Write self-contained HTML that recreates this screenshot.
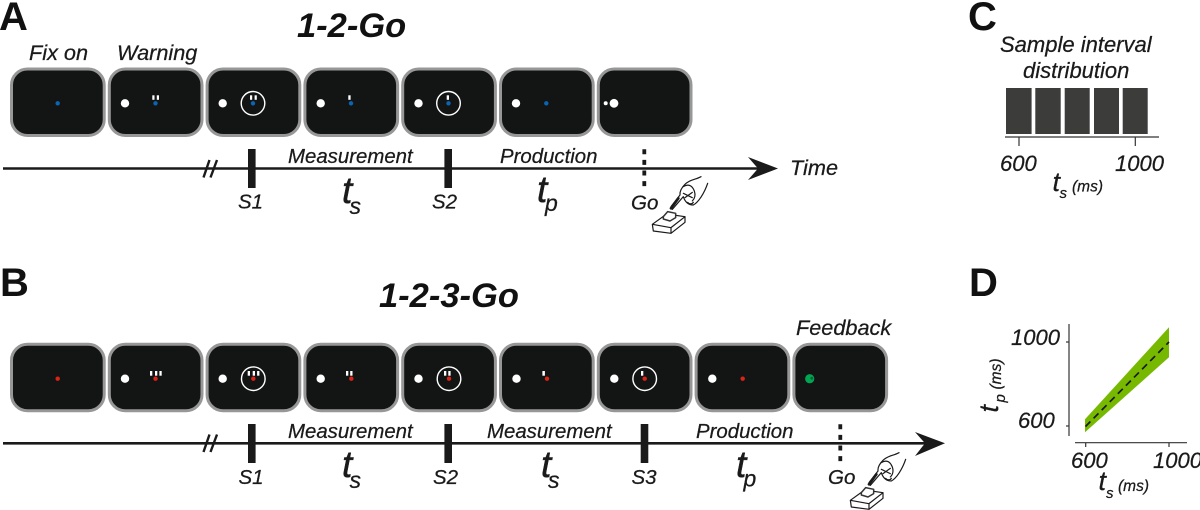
<!DOCTYPE html>
<html><head><meta charset="utf-8"><style>
html,body{margin:0;padding:0;background:#fff;width:1200px;height:510px;overflow:hidden}
svg{display:block}
text{font-family:"Liberation Sans",Arial,sans-serif;font-style:italic;fill:#1a1a1a;stroke:#1a1a1a;stroke-width:.25}
.l{font-size:40px;font-weight:bold;font-style:normal;fill:#111;stroke:none}
.h{font-size:34.5px;font-weight:bold;fill:#111;stroke:none}
.a{font-size:21.7px}.m{font-size:20.4px}.b{font-size:20.5px}
.t{font-size:37px;stroke-width:.5}.s{font-size:23px}.n{font-size:22px}.u{font-size:15.5px}
.p{fill:#131514;stroke:#979797;stroke-width:3}
.w{fill:#fff}.c{fill:none;stroke:#fff;stroke-width:1.4}
.e{fill:#0a66b5}.r{fill:#dc2318}
.z{fill:none;stroke:#1a1a1a;stroke-width:3.6;stroke-linejoin:round;stroke-linecap:round}
</style></head><body>
<svg width="1200" height="510" viewBox="0 0 1200 510" xmlns="http://www.w3.org/2000/svg">
<defs>
<g id="hand" transform="translate(635,145) scale(.3333)">
<path class="z" d="M52 238L95 207L150 215V232L108 265L55 258ZM52 238L108 248L150 215M108 248V265"/>
<path d="M85 215L98 200L122 205V218L105 228L85 222Z" fill="#fff" stroke="#333" stroke-width="4.5" stroke-linejoin="round"/>
<path class="z" d="M198 95C180 105 165 103 150 118C138 130 134 140 135 150L108 185L112 193L145 155C150 170 160 180 175 180C190 172 208 145 218 115"/>
<path class="z" d="M145 125C160 115 172 122 178 138C182 150 180 160 172 168M145 145L172 158M150 158L172 142M158 172C163 178 172 178 175 172"/>
<path d="M108 190L130 160" stroke="#1a1a1a" stroke-width="8" stroke-linecap="round" fill="none"/>
</g>
</defs>

<!-- Panel letters -->
<text class="l" x="-1" y="30">A</text>
<text class="l" x="0" y="296">B</text>
<text class="l" x="968" y="30">C</text>
<text class="l" x="969" y="296">D</text>

<text class="h" x="297" y="37">1-2-Go</text>
<text class="h" x="379" y="307">1-2-3-Go</text>
<text class="a" x="29" y="60">Fix on</text>
<text class="a" x="117" y="60">Warning</text>
<text class="a" x="796" y="335">Feedback</text>

<!-- Row A panels -->
<rect class="p" x="11.5" y="69" width="92.7" height="66.5" rx="16"/>
<rect class="p" x="109.3" y="69" width="92.7" height="66.5" rx="16"/>
<rect class="p" x="207.1" y="69" width="92.7" height="66.5" rx="16"/>
<rect class="p" x="304.9" y="69" width="92.7" height="66.5" rx="16"/>
<rect class="p" x="402.7" y="69" width="92.7" height="66.5" rx="16"/>
<rect class="p" x="500.5" y="69" width="92.7" height="66.5" rx="16"/>
<rect class="p" x="598.3" y="69" width="92.7" height="66.5" rx="16"/>
<circle class="e" cx="57.7" cy="103.3" r="2.2"/>
<circle class="w" cx="125" cy="103.3" r="4.2"/><circle class="e" cx="155.5" cy="103.3" r="2.2"/>
<rect class="w" x="152.3" y="95.3" width="2.2" height="4.5"/><rect class="w" x="156.8" y="95.3" width="2.2" height="4.5"/>
<circle class="w" cx="222.7" cy="103.3" r="4.2"/><circle class="c" cx="253" cy="103.3" r="11.8"/><circle class="e" cx="253" cy="103.3" r="2.2"/>
<rect class="w" x="250" y="95.3" width="2.2" height="4.5"/><rect class="w" x="254.6" y="95.3" width="2.2" height="4.5"/>
<circle class="w" cx="320.7" cy="103.3" r="4.2"/><circle class="e" cx="351" cy="103.3" r="2.2"/>
<rect class="w" x="348.3" y="95.3" width="2.3" height="4.5"/>
<circle class="w" cx="418.5" cy="103.3" r="4.2"/><circle class="c" cx="448.5" cy="103.3" r="11.8"/><circle class="e" cx="448.5" cy="103.3" r="2.2"/>
<rect class="w" x="446.7" y="95.3" width="2.3" height="4.5"/>
<circle class="w" cx="516" cy="103.3" r="4.2"/><circle class="e" cx="546.3" cy="103.3" r="2.2"/>
<circle class="w" cx="605.7" cy="103.3" r="2"/><circle class="w" cx="614" cy="103.3" r="4.4"/>

<!-- Timeline A -->
<line x1="3" y1="168.5" x2="760" y2="168.5" stroke="#1a1a1a" stroke-width="2.6"/>
<polygon points="748,157 778,168.5 748,180 758,168.5" fill="#1a1a1a"/>
<line x1="203.5" y1="177.5" x2="209.5" y2="160" stroke="#1a1a1a" stroke-width="2.4"/>
<line x1="210.5" y1="177.5" x2="217" y2="160" stroke="#1a1a1a" stroke-width="2.4"/>
<rect x="248" y="149" width="7.6" height="39" fill="#1a1a1a"/>
<rect x="444.4" y="149" width="7.6" height="39" fill="#1a1a1a"/>
<line x1="644.3" y1="149.3" x2="644.3" y2="188" stroke="#1a1a1a" stroke-width="3.8" stroke-dasharray="5 5.6"/>
<text class="b" x="238" y="208.5">S1</text>
<text class="b" x="432" y="208.5">S2</text>
<text class="m" x="288" y="163">Measurement</text>
<text class="m" x="500" y="163">Production</text>
<text class="t" x="342" y="203">t</text><text class="s" x="349.5" y="214">s</text>
<text class="t" x="537" y="202">t</text><text class="s" x="545" y="211">p</text>
<text class="b" x="631" y="209.5">Go</text>
<text class="a" x="790" y="175">Time</text>
<use href="#hand"/>

<!-- Row B panels -->
<rect class="p" x="11.5" y="344.2" width="92.7" height="66.6" rx="16"/>
<rect class="p" x="109.3" y="344.2" width="92.7" height="66.6" rx="16"/>
<rect class="p" x="207.1" y="344.2" width="92.7" height="66.6" rx="16"/>
<rect class="p" x="304.9" y="344.2" width="92.7" height="66.6" rx="16"/>
<rect class="p" x="402.7" y="344.2" width="92.7" height="66.6" rx="16"/>
<rect class="p" x="500.5" y="344.2" width="92.7" height="66.6" rx="16"/>
<rect class="p" x="598.3" y="344.2" width="92.7" height="66.6" rx="16"/>
<rect class="p" x="696.1" y="344.2" width="92.7" height="66.6" rx="16"/>
<rect class="p" x="793.9" y="344.2" width="92.7" height="66.6" rx="16"/>
<circle class="r" cx="57.7" cy="378.7" r="2.2"/>
<circle class="w" cx="125" cy="378.7" r="4.2"/><circle class="r" cx="155.5" cy="378.7" r="2.2"/>
<rect class="w" x="150" y="371" width="2.3" height="4.7"/><rect class="w" x="155" y="371" width="2.3" height="4.7"/><rect class="w" x="159.4" y="371" width="2.3" height="4.7"/>
<circle class="w" cx="222.7" cy="378.7" r="4.2"/><circle class="c" cx="253.3" cy="378.7" r="11.8"/><circle class="r" cx="253.3" cy="378.7" r="2.2"/>
<rect class="w" x="247.7" y="371" width="2.3" height="4.7"/><rect class="w" x="252.7" y="371" width="2.3" height="4.7"/><rect class="w" x="257.1" y="371" width="2.3" height="4.7"/>
<circle class="w" cx="320.7" cy="378.7" r="4.2"/><circle class="r" cx="351.3" cy="378.7" r="2.2"/>
<rect class="w" x="346" y="371" width="2.3" height="4.7"/><rect class="w" x="350.2" y="371" width="2.3" height="4.7"/>
<circle class="w" cx="418.5" cy="378.7" r="4.2"/><circle class="c" cx="449" cy="378.7" r="11.8"/><circle class="r" cx="449" cy="378.7" r="2.2"/>
<rect class="w" x="444" y="371" width="2.3" height="4.7"/><rect class="w" x="448.3" y="371" width="2.3" height="4.7"/>
<circle class="w" cx="516.5" cy="378.7" r="4.2"/><circle class="r" cx="547" cy="378.7" r="2.2"/>
<rect class="w" x="542.4" y="371" width="2.5" height="4.7"/>
<circle class="w" cx="614.3" cy="378.7" r="4.2"/><circle class="c" cx="644.7" cy="378.7" r="11.8"/><circle class="r" cx="644.7" cy="378.7" r="2.2"/>
<rect class="w" x="641" y="371" width="2.3" height="4.7"/>
<circle class="w" cx="712.3" cy="378.7" r="4.2"/><circle class="r" cx="742.7" cy="378.7" r="2.2"/>
<circle cx="809.7" cy="378.7" r="4.6" fill="#00a651"/><circle cx="811.8" cy="378.2" r="1.4" fill="#0b5f37"/>

<!-- Timeline B -->
<line x1="3" y1="443.3" x2="926" y2="443.3" stroke="#1a1a1a" stroke-width="2.6"/>
<polygon points="915,432 945,443.3 915,456 925,443.3" fill="#1a1a1a"/>
<line x1="203.5" y1="452" x2="209.5" y2="434.5" stroke="#1a1a1a" stroke-width="2.4"/>
<line x1="210.5" y1="452" x2="217" y2="434.5" stroke="#1a1a1a" stroke-width="2.4"/>
<rect x="248" y="424" width="7.6" height="39" fill="#1a1a1a"/>
<rect x="444.4" y="424" width="7.6" height="39" fill="#1a1a1a"/>
<rect x="640.7" y="424" width="7.6" height="39" fill="#1a1a1a"/>
<line x1="840.3" y1="424.3" x2="840.3" y2="463" stroke="#1a1a1a" stroke-width="3.8" stroke-dasharray="5 5.6"/>
<text class="b" x="238.5" y="484">S1</text>
<text class="b" x="433" y="484">S2</text>
<text class="b" x="631.5" y="484">S3</text>
<text class="m" x="288" y="438">Measurement</text>
<text class="m" x="487" y="438">Measurement</text>
<text class="m" x="696" y="438">Production</text>
<text class="t" x="342" y="477">t</text><text class="s" x="349.5" y="488">s</text>
<text class="t" x="541" y="477">t</text><text class="s" x="548" y="488">s</text>
<text class="t" x="736" y="477">t</text><text class="s" x="743.5" y="486.5">p</text>
<text class="b" x="828" y="484">Go</text>
<use href="#hand" transform="translate(198,276)"/>

<!-- Panel C -->
<text class="n" x="1000" y="52">Sample interval</text>
<text class="n" x="1023" y="78">distribution</text>
<g fill="#3c3c3b">
<rect x="1006" y="88" width="25.6" height="46"/>
<rect x="1035.3" y="88" width="25.4" height="46"/>
<rect x="1064.7" y="88" width="25" height="46"/>
<rect x="1094" y="88" width="25" height="46"/>
<rect x="1122.7" y="88" width="25" height="46"/>
</g>
<g stroke="#333" stroke-width="1.2" fill="none">
<line x1="1005" y1="137" x2="1159" y2="137"/>
<line x1="1019" y1="137" x2="1019" y2="146"/>
<line x1="1135.3" y1="137" x2="1135.3" y2="146"/>
</g>
<text class="n" x="1000" y="171">600</text>
<text class="n" x="1115" y="171">1000</text>
<text x="1052.5" y="191" style="font-size:27px">t</text>
<text x="1059.5" y="198" style="font-size:15px">s</text>
<text class="u" x="1072" y="191.5">(ms)</text>

<!-- Panel D -->
<polygon points="1085,419.3 1169,327.3 1169,357.3 1085,432.3" fill="#76b900"/>
<line x1="1085.5" y1="426.5" x2="1169" y2="342" stroke="#1a1a1a" stroke-width="1.7" stroke-dasharray="7 4.5"/>
<g stroke="#333" stroke-width="1.2" fill="none">
<line x1="1069" y1="324" x2="1069" y2="436"/>
<line x1="1066" y1="342" x2="1069" y2="342"/>
<line x1="1066" y1="426" x2="1069" y2="426"/>
<line x1="1075" y1="442.7" x2="1187" y2="442.7"/>
<line x1="1085.7" y1="442.7" x2="1085.7" y2="447"/>
<line x1="1169" y1="442.7" x2="1169" y2="447"/>
</g>
<text class="n" x="1011" y="345">1000</text>
<text class="n" x="1018" y="428">600</text>
<text class="n" x="1071" y="468">600</text>
<text class="n" x="1153" y="468">1000</text>
<text x="1098.5" y="490" style="font-size:27px">t</text>
<text x="1106" y="498" style="font-size:15px">s</text>
<text class="u" x="1118" y="491">(ms)</text>
<g transform="translate(998,412.5) rotate(-90)">
<text x="0" y="0" style="font-size:27px">t</text>
<text x="10" y="7" style="font-size:15px">p</text>
<text class="u" x="23" y="3">(ms)</text>
</g>
</svg>
</body></html>
